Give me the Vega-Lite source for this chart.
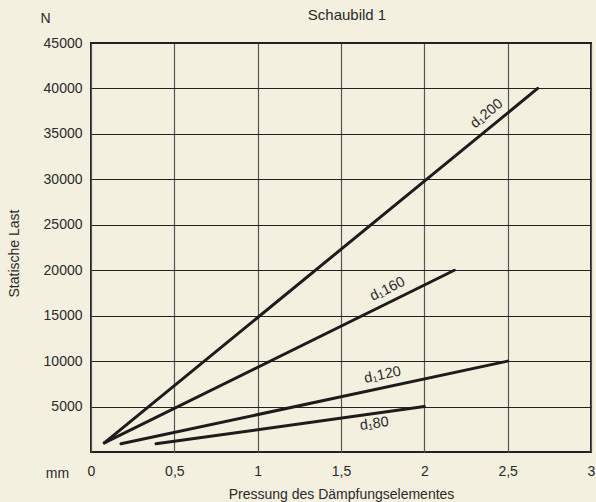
{
  "$schema": "https://vega.github.io/schema/vega-lite/v6.json",
  "width": 500,
  "height": 409,
  "autosize": {"type": "none"},
  "padding": {"left": 91, "top": 43, "right": 5, "bottom": 50},
  "background": "#f4f0e0",
  "title": {"text": "Schaubild 1", "anchor": "middle", "frame": "group", "offset": -12, "fontSize": 15, "fontWeight": "normal", "font": "Liberation Sans", "color": "#2a2a2a", "dx": 6},
  "config": {
    "view": {"stroke": "#222", "strokeWidth": 2},
    "font": "Liberation Sans",
    "axis": {"labelFont": "Liberation Sans", "titleFont": "Liberation Sans", "labelColor": "#2a2a2a", "titleColor": "#2a2a2a", "labelFontSize": 14, "titleFontSize": 14, "titleFontWeight": "normal", "domain": false, "ticks": false}
  },
  "datasets": {
    "curves": [
      {"serie": "d200", "x": 0.08, "y": 1000},
      {"serie": "d200", "x": 2.68, "y": 40000},
      {"serie": "d160", "x": 0.08, "y": 1000},
      {"serie": "d160", "x": 2.18, "y": 20000},
      {"serie": "d120", "x": 0.18, "y": 900},
      {"serie": "d120", "x": 2.5, "y": 10000},
      {"serie": "d80", "x": 0.39, "y": 900},
      {"serie": "d80", "x": 2.0, "y": 5000}
    ],
    "labels": [
      {"serie": "d200", "x": 2.375, "y": 37200, "label": "d₁200"},
      {"serie": "d160", "x": 1.78, "y": 17900, "label": "d₁160"},
      {"serie": "d120", "x": 1.75, "y": 8450, "label": "d₁120"},
      {"serie": "d80", "x": 1.70, "y": 3080, "label": "d₁80"}
    ]
  },
  "layer": [
    {
      "data": {"name": "curves"},
      "mark": {"type": "line", "color": "#1c1c1c", "strokeWidth": 3, "strokeCap": "round"},
      "encoding": {
        "x": {"field": "x", "type": "quantitative", "scale": {"domain": [0, 3], "nice": false},
          "axis": {"orient": "bottom", "values": [0, 0.5, 1, 1.5, 2, 2.5, 3], "labelExpr": "replace(format(datum.value, '~g'), '.', ',')", "labelPadding": 12, "grid": true, "gridColor": "#555", "gridWidth": 1.2, "title": "Pressung des Dämpfungselementes", "titlePadding": 9, "labelFlush": false}},
        "y": {"field": "y", "type": "quantitative", "scale": {"domain": [0, 45000], "nice": false},
          "axis": {"orient": "left", "values": [5000, 10000, 15000, 20000, 25000, 30000, 35000, 40000, 45000], "format": "d", "labelPadding": 9, "grid": true, "gridColor": "#222", "gridWidth": 1.2, "title": "Statische Last", "titleX": -77, "titleY": 210, "titleAngle": -90, "titleBaseline": "middle", "titleAlign": "center", "labelFlush": false}},
        "detail": {"field": "serie"}
      }
    },
    {
      "data": {"name": "labels"},
      "transform": [{"filter": "datum.serie == 'd200'"}],
      "mark": {"type": "text", "angle": -39.3, "fontSize": 14.5, "color": "#2a2a2a", "align": "center", "baseline": "middle"},
      "encoding": {"x": {"field": "x", "type": "quantitative", "axis": null}, "y": {"field": "y", "type": "quantitative", "axis": null}, "text": {"field": "label"}}
    },
    {
      "data": {"name": "labels"},
      "transform": [{"filter": "datum.serie == 'd160'"}],
      "mark": {"type": "text", "angle": -26.2, "fontSize": 14.5, "color": "#2a2a2a", "align": "center", "baseline": "middle"},
      "encoding": {"x": {"field": "x", "type": "quantitative", "axis": null}, "y": {"field": "y", "type": "quantitative", "axis": null}, "text": {"field": "label"}}
    },
    {
      "data": {"name": "labels"},
      "transform": [{"filter": "datum.serie == 'd120'"}],
      "mark": {"type": "text", "angle": -12.1, "fontSize": 14.5, "color": "#2a2a2a", "align": "center", "baseline": "middle"},
      "encoding": {"x": {"field": "x", "type": "quantitative", "axis": null}, "y": {"field": "y", "type": "quantitative", "axis": null}, "text": {"field": "label"}}
    },
    {
      "data": {"name": "labels"},
      "transform": [{"filter": "datum.serie == 'd80'"}],
      "mark": {"type": "text", "angle": -7.8, "fontSize": 14.5, "color": "#2a2a2a", "align": "center", "baseline": "middle"},
      "encoding": {"x": {"field": "x", "type": "quantitative", "axis": null}, "y": {"field": "y", "type": "quantitative", "axis": null}, "text": {"field": "label"}}
    },
    {
      "data": {"name": "curves"},
      "mark": {"type": "point", "opacity": 0},
      "encoding": {
        "x": {"field": "x", "type": "quantitative", "axis": {"orient": "bottom", "labels": false, "grid": false, "title": "mm", "titleX": -34, "titleY": 21, "titleAlign": "center", "titleBaseline": "middle"}},
        "y": {"field": "y", "type": "quantitative", "axis": {"orient": "left", "labels": false, "grid": false, "title": "N", "titleAngle": 0, "titleX": -46, "titleY": -25, "titleAlign": "center", "titleBaseline": "middle"}}
      }
    }
  ],
  "resolve": {"axis": {"x": "independent", "y": "independent"}}
}
